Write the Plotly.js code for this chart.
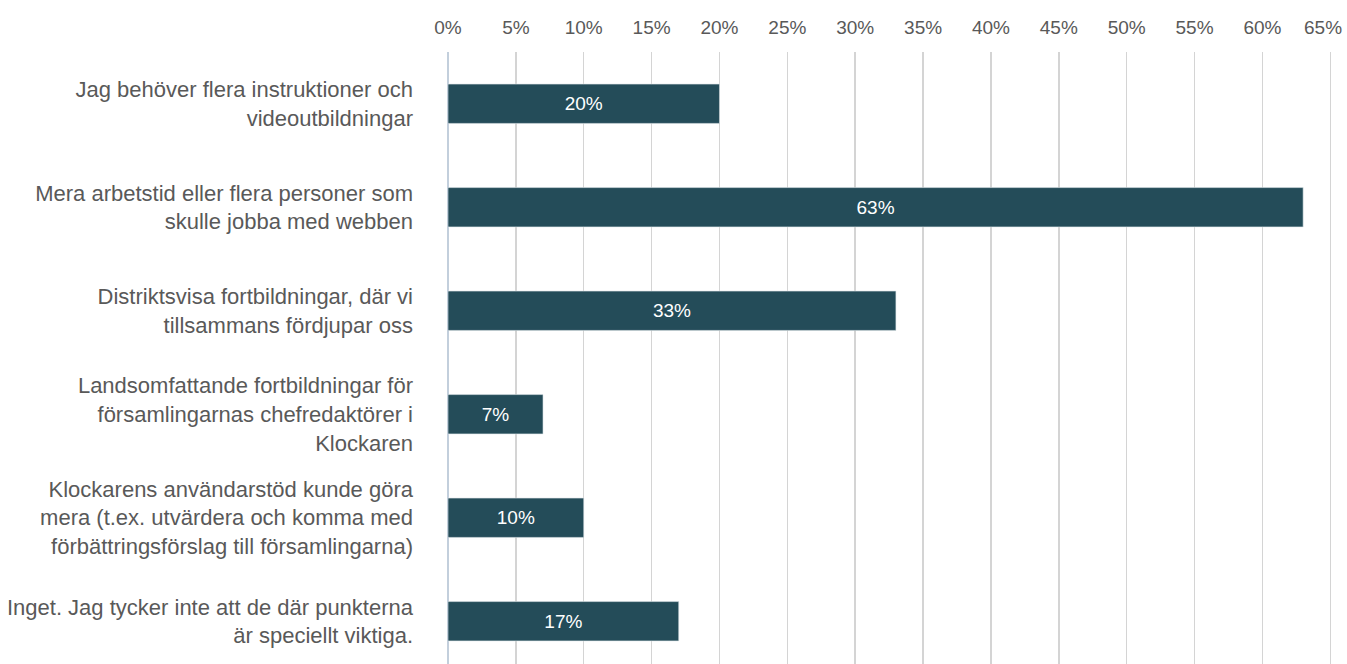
<!DOCTYPE html>
<html>
<head>
<meta charset="utf-8">
<script src="https://cdn.plot.ly/plotly-3.0.1.min.js"></script>
<style>html,body{margin:0;padding:0;background:#fff;}#chart{width:1347px;height:664px;}</style>
</head>
<body>
<div id="chart"></div>
<script>
const categories = [
  "Jag behöver flera instruktioner och<br>videoutbildningar",
  "Mera arbetstid eller flera personer som<br>skulle jobba med webben",
  "Distriktsvisa fortbildningar, där vi<br>tillsammans fördjupar oss",
  "Landsomfattande fortbildningar för<br>församlingarnas chefredaktörer i<br>Klockaren",
  "Klockarens användarstöd kunde göra<br>mera (t.ex. utvärdera och komma med<br>förbättringsförslag till församlingarna)",
  "Inget. Jag tycker inte att de där punkterna<br>är speciellt viktiga."
];
const values = [20, 63, 33, 7, 10, 17];
const barLabels = ["20%", "63%", "33%", "7%", "10%", "17%"];
const tickValues = [0, 5, 10, 15, 20, 25, 30, 35, 40, 45, 50, 55, 60, 65];
const tickLabels = ['0%', '5%', '10%', '15%', '20%', '25%', '30%', '35%', '40%', '45%', '50%', '55%', '60%', '65%'];

const lastIdx = tickValues.length - 1;
// Last tick label is drawn as an annotation so it can be nudged inside the page edge (as in the reference).
const ticktextMain = tickLabels.map((t, i) => (i === lastIdx ? '' : t));

const tickFont = {family: 'Liberation Sans, Arial, sans-serif', size: 19, color: '#595959'};

const trace = {
  type: 'bar',
  orientation: 'h',
  x: values,
  y: categories,
  text: barLabels,
  textposition: 'inside',
  insidetextanchor: 'middle',
  textangle: 0,
  textfont: {family: 'Liberation Sans, Arial, sans-serif', size: 19, color: '#ffffff'},
  marker: {color: '#244C59', line: {color: '#dfe6ea', width: 0.6}},
  width: 0.38,
  hoverinfo: 'none',
  cliponaxis: false
};

const layout = {
  width: 1347,
  height: 664,
  margin: {l: 448, r: 14, t: 52, b: 0, pad: 0},
  paper_bgcolor: '#ffffff',
  plot_bgcolor: '#ffffff',
  showlegend: false,
  font: {family: 'Liberation Sans, Arial, sans-serif', color: '#595959'},
  xaxis: {
    side: 'top',
    range: [0, 65.2],
    tickvals: tickValues,
    ticktext: ticktextMain,
    showgrid: true,
    gridcolor: '#d4d4d4',
    gridwidth: 1.5,
    zeroline: true,
    zerolinecolor: '#c3cfdc',
    zerolinewidth: 1.5,
    showline: false,
    ticks: '',
    ticklabelstandoff: 13,
    tickfont: tickFont,
    fixedrange: true
  },
  yaxis: {
    type: 'category',
    range: [5.413, -0.5],
    showgrid: false,
    zeroline: false,
    showline: false,
    ticks: '',
    ticklabelstandoff: 34,
    tickfont: {size: 22, color: '#595959'},
    fixedrange: true
  },
  annotations: [{
    x: tickValues[lastIdx],
    xref: 'x',
    y: 1,
    yref: 'paper',
    text: tickLabels[lastIdx],
    showarrow: false,
    xanchor: 'center',
    yanchor: 'middle',
    xshift: -7,
    yshift: 25,
    font: tickFont
  }],
  bargap: 0.62
};

Plotly.newPlot('chart', [trace], layout, {staticPlot: true, displayModeBar: false});
</script>
</body>
</html>
